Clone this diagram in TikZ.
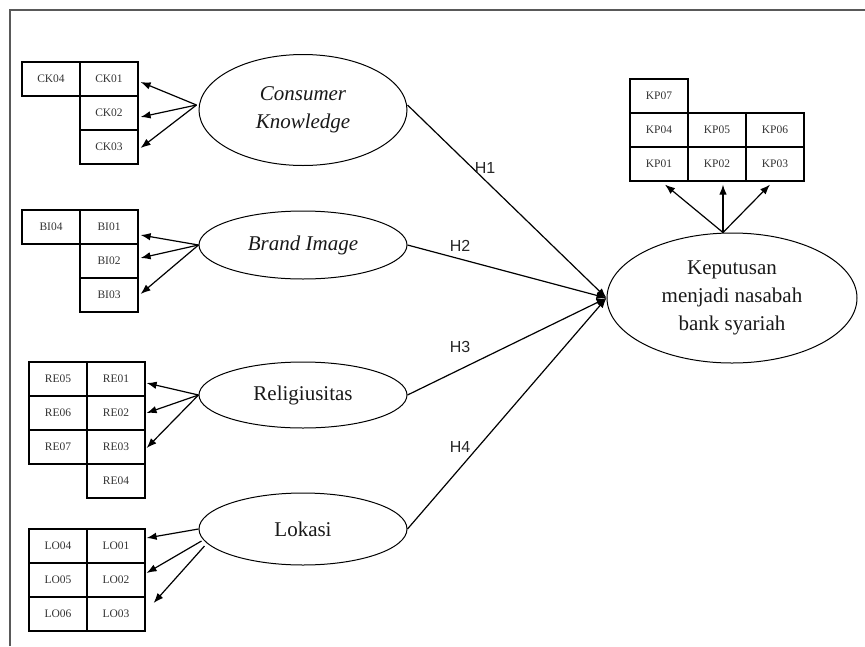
\documentclass[tikz,border=0pt]{standalone}
\usepackage{fontspec}
\setmainfont{Liberation Serif}
\newfontfamily\hfont{Liberation Sans}
\usetikzlibrary{shapes.geometric,arrows.meta,calc}
\begin{document}
\begin{tikzpicture}[x=1pt,y=-1pt,
  ind/.style={draw, line width=1.2pt, minimum width=58pt, minimum height=34pt, inner sep=0pt,
    font=\fontsize{11.5}{12}\selectfont, text=black!80},
  lat/.style={draw, ellipse, line width=1pt, inner sep=0pt, align=center,
    font=\fontsize{21}{28}\selectfont, text=black!90},
  arr/.style={-{Latex[length=10pt,width=7.5pt]}, line width=1.2pt},
  hl/.style={font=\hfont\fontsize{16}{16}\selectfont, inner sep=0pt, text=black!85}
]
\useasboundingbox (0,0) rectangle (865,646);
\draw[line width=1.6pt, black!65] (10,646) -- (10,10) -- (865,10);

% Latent variables
\node[lat, minimum width=208pt, minimum height=111pt] (ck) at (303,110) {\itshape Consumer\\\itshape Knowledge};
\node[lat, minimum width=208pt, minimum height=68pt] (bi) at (303,245) {\itshape Brand Image};
\node[lat, minimum width=208pt, minimum height=66pt] (re) at (303,395) {Religiusitas};
\node[lat, minimum width=208pt, minimum height=72pt] (lo) at (303,529) {Lokasi};
\node[lat, minimum width=250pt, minimum height=130pt] (kp) at (732,298) {Keputusan\\menjadi nasabah\\bank syariah};

% Indicators CK
\node[ind] (ck04) at (51,79) {CK04};
\node[ind] (ck01) at (109,79) {CK01};
\node[ind] (ck02) at (109,113) {CK02};
\node[ind] (ck03) at (109,147) {CK03};
% BI
\node[ind] (bi04) at (51,227) {BI04};
\node[ind] (bi01) at (109,227) {BI01};
\node[ind] (bi02) at (109,261) {BI02};
\node[ind] (bi03) at (109,295) {BI03};
% RE
\node[ind] (re05) at (58,379) {RE05};
\node[ind] (re06) at (58,413) {RE06};
\node[ind] (re07) at (58,447) {RE07};
\node[ind] (re01) at (116,379) {RE01};
\node[ind] (re02) at (116,413) {RE02};
\node[ind] (re03) at (116,447) {RE03};
\node[ind] (re04) at (116,481) {RE04};
% LO
\node[ind] (lo04) at (58,546) {LO04};
\node[ind] (lo05) at (58,580) {LO05};
\node[ind] (lo06) at (58,614) {LO06};
\node[ind] (lo01) at (116,546) {LO01};
\node[ind] (lo02) at (116,580) {LO02};
\node[ind] (lo03) at (116,614) {LO03};
% KP
\node[ind] (kp07) at (659,96) {KP07};
\node[ind] (kp04) at (659,130) {KP04};
\node[ind] (kp05) at (717,130) {KP05};
\node[ind] (kp06) at (775,130) {KP06};
\node[ind] (kp01) at (659,164) {KP01};
\node[ind] (kp02) at (717,164) {KP02};
\node[ind] (kp03) at (775,164) {KP03};

% Indicator arrows
\coordinate (cks) at ($(ck.west)+(-2,-5)$);
\draw[arr] (cks) -- ($(ck01.east)+(2,3)$);
\draw[arr] (cks) -- ($(ck02.east)+(2,4)$);
\draw[arr] (cks) -- ($(ck03.east)+(2,1)$);

\draw[arr] (bi.west) -- ($(bi01.east)+(2,8)$);
\draw[arr] (bi.west) -- ($(bi02.east)+(2,-3)$);
\draw[arr] (bi.west) -- ($(bi03.east)+(2,-1)$);

\draw[arr] (re.west) -- ($(re01.east)+(1,4)$);
\draw[arr] (re.west) -- ($(re02.east)+(1,0)$);
\draw[arr] (re.west) -- ($(re03.east)+(1,1)$);

\coordinate (lo3end) at ($(lo03.east)+(8,-11)$);
\draw[arr] (lo.west) -- ($(lo01.east)+(1,-8)$);
\draw[arr] ($(lo.west)+(3,12)$) -- ($(lo02.east)+(1,-7)$);
\draw[arr] ($(lo.west)+(6,17)$) -- (lo3end);

\coordinate (kps) at ($(kp.north)+(-9,0)$);
\draw[arr] (kps) -- ($(kp01.south)+(6,3)$);
\draw[arr] (kps) -- ($(kp02.south)+(6,3)$);
\draw[arr] (kps) -- ($(kp03.south)+(-5,3)$);

% Structural paths
\draw[arr] ($(ck.east)+(0,-5)$) -- (kp.west);
\draw[arr] (bi.east) -- (kp.west);
\draw[arr] (re.east) -- (kp.west);
\draw[arr] (lo.east) -- (kp.west);

\node[hl] (h1) at (485,168) {H1};
\node[hl] (h2) at (460,246) {H2};
\node[hl] (h3) at (460,347) {H3};
\node[hl] (h4) at (460,447) {H4};
\end{tikzpicture}
\end{document}
